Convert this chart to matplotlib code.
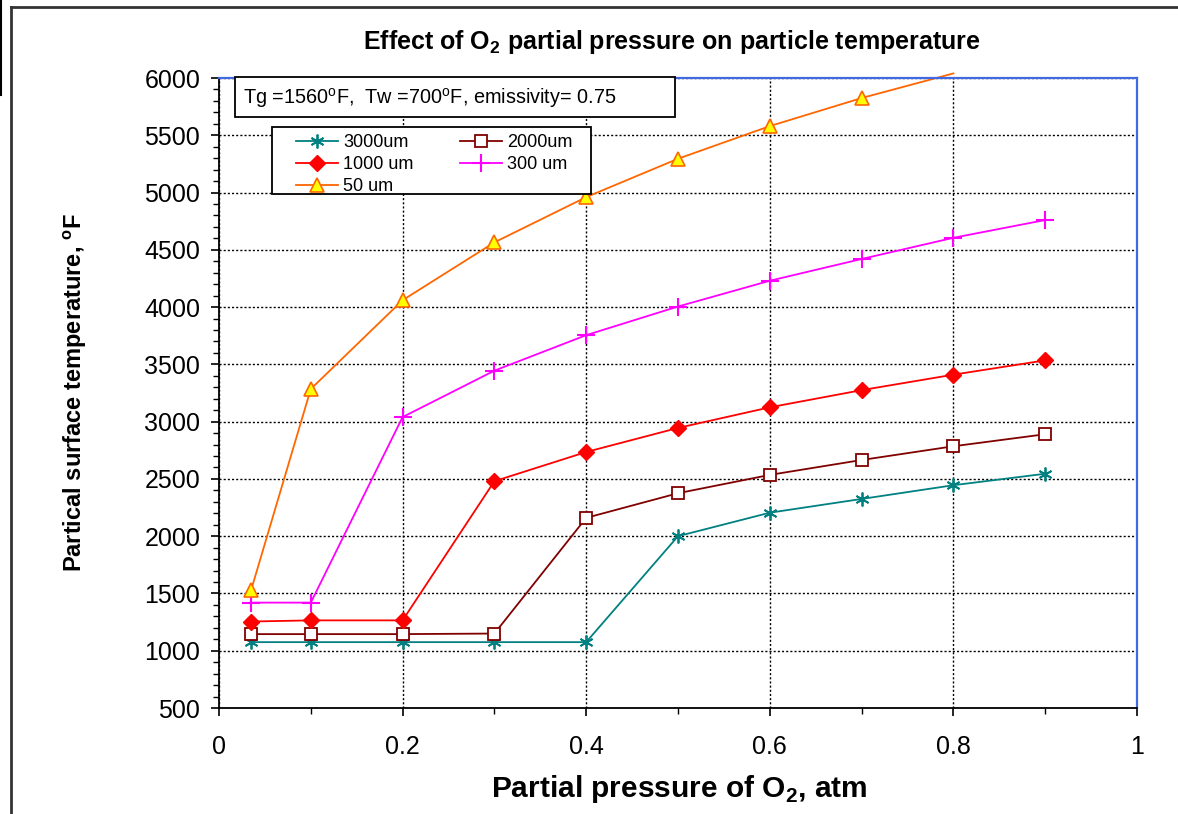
import numpy as np
import matplotlib
matplotlib.use("Agg")
import matplotlib.pyplot as plt
from matplotlib.lines import Line2D
from matplotlib.patches import Rectangle
from matplotlib.ticker import MultipleLocator

plt.rcParams["font.family"] = ["Liberation Sans", "DejaVu Sans"]
plt.rcParams["mathtext.fontset"] = "custom"
plt.rcParams["mathtext.rm"] = "Liberation Sans"
plt.rcParams["mathtext.bf"] = "Liberation Sans:bold"

# ---------------------------------------------------------------------------
# Datos: temperatura superficial vs presión parcial de O2
# ---------------------------------------------------------------------------
p_o2 = [0.035, 0.1, 0.2, 0.3, 0.4, 0.5, 0.6, 0.7, 0.8, 0.9]

t_3000 = [1075, 1075, 1075, 1075, 1075, 2000, 2205, 2325, 2445, 2545]
t_2000 = [1145, 1145, 1145, 1150, 2160, 2375, 2535, 2665, 2785, 2890]
t_1000 = [1255, 1265, 1265, 2480, 2735, 2945, 3125, 3275, 3410, 3535]
t_300 = [1420, 1420, 3040, 3445, 3755, 4005, 4230, 4420, 4605, 4760]
p_o2_50 = [0.035, 0.1, 0.2, 0.3, 0.4, 0.5, 0.6, 0.7, 0.8]
t_50 = [1530, 3285, 4060, 4565, 4960, 5295, 5580, 5825, 6040]

W, H = 1178, 814
fig = plt.figure(figsize=(W / 100, H / 100), dpi=100)


def fx(px):
    return px / W


def fy(py):
    return 1 - py / H


ax = fig.add_axes([fx(219), fy(708), fx(1137) - fx(219), fy(78) - fy(708)])

ax.plot(p_o2, t_3000, color="#008080", lw=1.3, marker=(6, 2, 0), ms=10,
        mew=1.3, label="3000um")
ax.plot(p_o2, t_2000, color="#800000", lw=1.3, marker="s", ms=9,
        mfc="white", mew=1.3, label="2000um")
ax.plot(p_o2, t_1000, color="#FF0000", lw=1.3, marker="D", ms=8,
        label="1000 um")
ax.plot(p_o2, t_300, color="#FF00FF", lw=1.3, marker="+", ms=13,
        mew=1.5, label="300 um")
# el último punto de 50 um cae fuera del eje: sin marcador
ax.plot(p_o2_50, t_50, color="#FF6600", lw=1.3, clip_on=False)
ax.plot(p_o2_50[:-1], t_50[:-1], color="#FF6600", lw=0, marker="^", ms=10,
        mfc="#FFFF00", mec="#FF6600", mew=1.2)

ax.set_xlim(0, 1)
ax.set_ylim(500, 6000)
ax.xaxis.set_major_locator(MultipleLocator(0.2))
ax.xaxis.set_minor_locator(MultipleLocator(0.1))
ax.yaxis.set_major_locator(MultipleLocator(500))
ax.yaxis.set_minor_locator(MultipleLocator(100))
ax.xaxis.set_major_formatter(lambda v, pos: f"{v:g}")

ax.grid(which="major", color="black", ls=(0, (1.5, 1.5)), lw=1.0)
ax.tick_params(which="major", direction="out", length=6, width=1.2,
               labelsize=18, colors="black")
ax.tick_params(which="minor", direction="out", length=4.5, width=1.0)
ax.tick_params(axis="y", pad=7.5)
ax.tick_params(axis="x", pad=13.5)

for side in ("left", "bottom"):
    ax.spines[side].set_color("black")
    ax.spines[side].set_linewidth(1.3)
for side in ("top", "right"):
    ax.spines[side].set_color("#4169E1")
    ax.spines[side].set_linewidth(1.6)

fig.text(fx(672), fy(42), r"Effect of O$_\mathbf{2}$ partial pressure on particle temperature",
         ha="center", va="center", fontsize=18, fontweight="bold")
fig.text(fx(75), fy(393), r"Partical surface temperature, $^\mathbf{o}$F",
         ha="center", va="center", rotation=90, fontsize=17, fontweight="bold")
fig.text(fx(679), fy(789), r"Partial pressure of O$_\mathbf{2}$, atm",
         ha="center", va="center", fontsize=21.5, fontweight="bold")

# caja con las condiciones de operación
fig.patches.append(Rectangle((fx(235), fy(117)), fx(675) - fx(235), fy(77) - fy(117),
                             transform=fig.transFigure, facecolor="white",
                             edgecolor="black", lw=1.3, zorder=5))
fig.text(fx(243), fy(98),
         r"Tg =1560$^\mathrm{o}$F,  Tw =700$^\mathrm{o}$F, emissivity= 0.75",
         ha="left", va="center", fontsize=14.3, zorder=6)

# leyenda: marco dibujado aparte para controlar los márgenes
fig.patches.append(Rectangle((fx(272), fy(194)), fx(591) - fx(272), fy(127) - fy(194),
                             transform=fig.transFigure, facecolor="white",
                             edgecolor="black", lw=1.3, zorder=5))
handles, labels = ax.get_legend_handles_labels()
h50 = Line2D([], [], color="#FF6600", lw=1.3, marker="^", ms=10,
             mfc="#FFFF00", mec="#FF6600", mew=1.2)
order_h = [handles[0], handles[2], h50, handles[1], handles[3]]
order_l = ["3000um", "1000 um", "50 um", "2000um", "300 um"]
leg = fig.legend(order_h, order_l, ncol=2, loc="upper left",
                 bbox_to_anchor=(fx(296), fy(134)), frameon=False,
                 fontsize=13, borderpad=0, labelspacing=0.28,
                 handlelength=2.3, handletextpad=0.3, columnspacing=2.6,
                 borderaxespad=0)
leg.set_zorder(6)

# marco exterior del gráfico
fig.add_artist(Line2D([fx(11), fx(11)], [fy(7), 0], color="#333333", lw=2))
fig.add_artist(Line2D([fx(11), 1], [fy(7), fy(7)], color="#333333", lw=2))
fig.add_artist(Line2D([fx(1), fx(1)], [1, fy(95)], color="black", lw=1.5))

fig.savefig("out.png", dpi=100)
